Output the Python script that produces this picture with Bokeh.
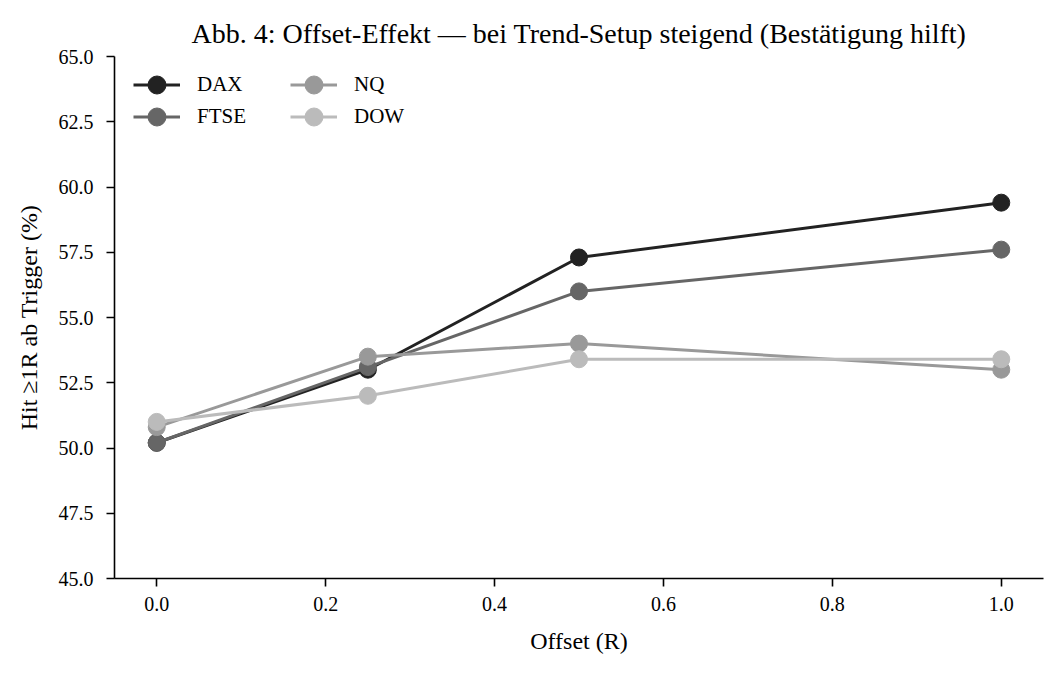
from bokeh.plotting import figure
from bokeh.models import FixedTicker, NumeralTickFormatter, Legend, LegendItem, Range1d
from bokeh.embed import file_html
from bokeh.resources import INLINE

offsets = [0.0, 0.25, 0.5, 1.0]
dax = [50.2, 53.0, 57.3, 59.4]
ftse = [50.2, 53.1, 56.0, 57.6]
nq = [50.8, 53.5, 54.0, 53.0]
dow = [51.0, 52.0, 53.4, 53.4]

series = [("DAX", dax, "#222222"), ("FTSE", ftse, "#666666"),
          ("NQ", nq, "#999999"), ("DOW", dow, "#bbbbbb")]

x_ticks = [0.0, 0.2, 0.4, 0.6, 0.8, 1.0]
y_ticks = [45.0, 47.5, 50.0, 52.5, 55.0, 57.5, 60.0, 62.5, 65.0]

FONT = "Liberation Serif"

p = figure(width=1063, height=674, output_backend="svg", toolbar_location=None,
           x_range=Range1d(-0.05, 1.05), y_range=Range1d(45, 65),
           min_border_left=114, min_border_right=20, min_border_top=56, min_border_bottom=96)
p.title.text = "Abb. 4: Offset-Effekt \u2014 bei Trend-Setup steigend (Best\u00e4tigung hilft)"
p.title.text_font = FONT
p.title.text_font_size = "28px"
p.title.text_font_style = "normal"
p.title.align = "center"
p.title.text_color = "#000000"
p.title.standoff = 15
p.outline_line_color = None
p.grid.visible = False
p.background_fill_color = "white"
p.border_fill_color = "white"

# legend slots: (column offset px, row bottom offset px) within the frame
slots = [(19, 471), (19, 439), (176, 471), (176, 439)]

for (name, vals, col), loc in zip(series, slots):
    r1 = p.line(offsets, vals, line_color=col, line_width=3)
    r2 = p.scatter(offsets, vals, size=17, fill_color=col, line_color=col, line_width=1)
    leg = Legend(items=[LegendItem(label=name, renderers=[r1, r2])], location=loc,
                 border_line_color=None, background_fill_alpha=0,
                 label_text_font=FONT, label_text_font_size="21px", label_text_color="black",
                 glyph_width=47, glyph_height=45, label_height=45, spacing=0,
                 label_standoff=17, margin=0, padding=0)
    p.add_layout(leg)

for ax in (p.xaxis, p.yaxis):
    ax.axis_line_color = "black"
    ax.axis_line_width = 1.6
    ax.major_tick_line_color = "black"
    ax.major_tick_line_width = 1.6
    ax.major_tick_out = 8
    ax.major_tick_in = 0
    ax.minor_tick_line_color = None
    ax.major_label_text_font = FONT
    ax.major_label_text_font_size = "20px"
    ax.major_label_text_color = "black"
    ax.axis_label_text_font = FONT
    ax.axis_label_text_font_size = "24px"
    ax.axis_label_text_font_style = "normal"
    ax.axis_label_text_color = "black"

p.xaxis.ticker = FixedTicker(ticks=x_ticks)
p.xaxis.formatter = NumeralTickFormatter(format="0.0")
p.yaxis.ticker = FixedTicker(ticks=y_ticks)
p.yaxis.formatter = NumeralTickFormatter(format="0.0")
p.xaxis.axis_label = "Offset (R)"
p.yaxis.axis_label = "Hit \u22651R ab Trigger (%)"
p.xaxis.major_label_standoff = 10
p.yaxis.major_label_standoff = 13
p.xaxis.axis_label_standoff = 14
p.yaxis.axis_label_standoff = 14

open("out.html", "w").write(file_html(p, INLINE))
